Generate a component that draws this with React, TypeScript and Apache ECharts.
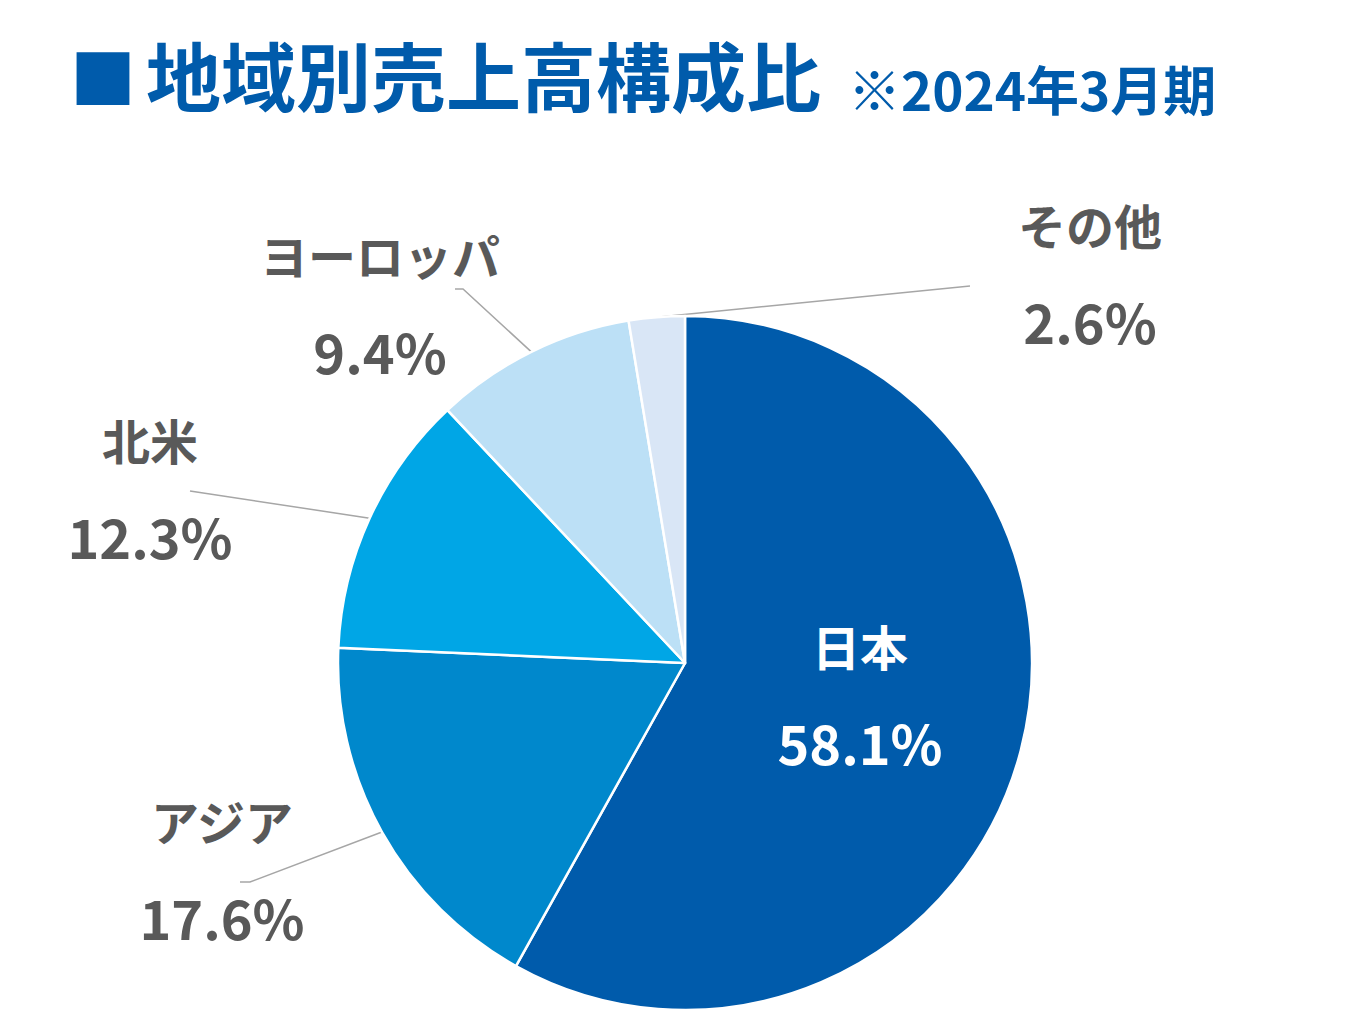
import React, { useEffect, useRef } from 'react';
import * as echarts from 'echarts';

// ---- data ----
const categories = ['日本', 'アジア', '北米', 'ヨーロッパ', 'その他'];
const shares = [58.1, 17.6, 12.3, 9.4, 2.6];
const colors = ['#005BAB', '#0088CC', '#00A6E6', '#BCE0F6', '#D9E6F6'];
const titleText = '地域別売上高構成比';
const subtitleText = '※2024年3月期';

// ---- layout (not data) ----
const PIE_CX = 685;
const PIE_CY = 663;
const PIE_R = 347;
// label block centre relative to pie centre
const labelOffsets: number[][] = [
  [175, 30],
  [-463, 205],
  [-535, -176],
  [-305, -361],
  [405, -391],
];
// leader line points after the slice anchor, relative to label centre
const lineEnds: (number[][] | null)[] = [
  null,
  [[28, 14], [18, 14]],
  [[40, 4], [40, 4]],
  [[83, -13], [75, -13]],
  [[-120, 14], [-120, 14]],
];

const FONT = '"Noto Sans CJK JP", "Noto Sans", sans-serif';
const BLUE = '#005BAB';
const GRAY = '#595959';

export default function App() {
  const ref = useRef<HTMLDivElement>(null);
  useEffect(() => {
    if (!ref.current) return;
    const chart = echarts.init(ref.current, null, { renderer: 'svg' });
    const data = categories.map((name, i) => ({
      name,
      value: shares[i],
      itemStyle: { color: colors[i] },
      label:
        i === 0
          ? { position: 'inside', color: '#FFFFFF' }
          : { position: 'outside', color: GRAY },
      labelLine: { show: i !== 0 },
    }));
    chart.setOption({
      animation: false,
      backgroundColor: '#FFFFFF',
      graphic: [
        {
          type: 'text',
          x: 70,
          y: 75,
          style: {
            text: '■',
            font: `bold 66px ${FONT}`,
            fill: BLUE,
            align: 'left',
            verticalAlign: 'middle',
          },
        },
        {
          type: 'text',
          x: 146,
          y: 73,
          style: {
            text: titleText,
            font: `bold 75px ${FONT}`,
            fill: BLUE,
            align: 'left',
            verticalAlign: 'middle',
          },
        },
        {
          type: 'text',
          x: 848,
          y: 88,
          style: {
            text: subtitleText,
            font: `bold 53px ${FONT}`,
            fill: BLUE,
            align: 'left',
            verticalAlign: 'middle',
          },
        },
      ],
      series: [
        {
          type: 'pie',
          center: [PIE_CX, PIE_CY],
          radius: [0, PIE_R],
          startAngle: 90,
          clockwise: true,
          avoidLabelOverlap: false,
          silent: true,
          emphasis: { disabled: true },
          itemStyle: { borderColor: '#FFFFFF', borderWidth: 2.5 },
          label: {
            show: true,
            fontFamily: FONT,
            fontWeight: 'bold',
            formatter: (p: any) => `{n|${p.name}}\n{v|${Number(p.value).toFixed(1)}%}`,
            rich: {
              n: { fontSize: 48, fontWeight: 'bold', fontFamily: FONT, lineHeight: 97 },
              v: { fontSize: 54, fontWeight: 'bold', fontFamily: FONT, lineHeight: 97 },
            },
          },
          labelLine: {
            show: true,
            length: 20,
            length2: 10,
            lineStyle: { color: '#A6A6A6', width: 1.5 },
          },
          labelLayout: (params: any) => {
            const i = params.dataIndex;
            const [ox, oy] = labelOffsets[i];
            const x = PIE_CX + ox;
            const y = PIE_CY + oy;
            const res: any = { x, y, align: 'center', verticalAlign: 'middle' };
            const ends = lineEnds[i];
            if (ends && params.labelLinePoints && params.labelLinePoints.length) {
              const start = params.labelLinePoints[0];
              res.labelLinePoints = [start, ...ends.map(([dx, dy]) => [x + dx, y + dy])];
            }
            return res;
          },
          data,
        },
      ],
    });
    return () => chart.dispose();
  }, []);
  return (
    <div
      ref={ref}
      style={{ position: 'absolute', left: 0, top: 0, width: 1349, height: 1020 }}
    />
  );
}
